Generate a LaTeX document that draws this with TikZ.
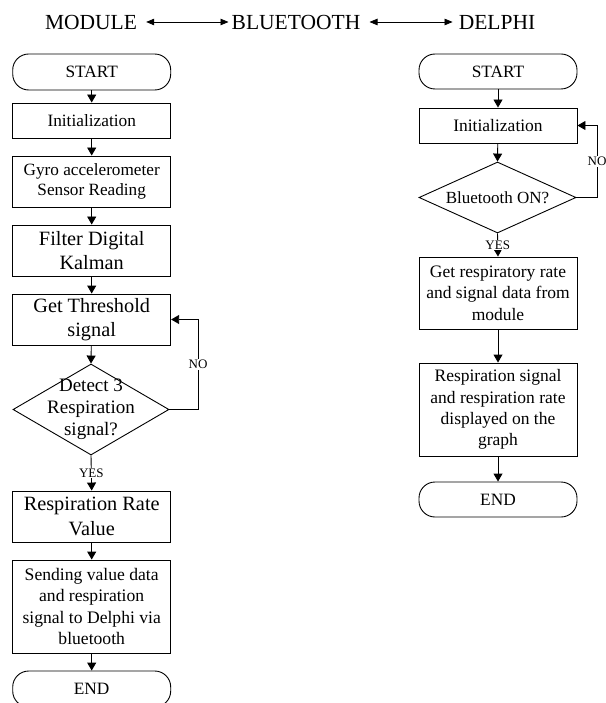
\documentclass[tikz,border=0pt]{standalone}
\usepackage{fontspec}
\setmainfont{Liberation Serif}
\usetikzlibrary{arrows.meta,shapes.geometric}
\tikzset{
  box/.style={draw, line width=0.9pt, minimum width=158pt, inner sep=0pt, align=center},
  term/.style={box, rounded corners=16pt},
  dia/.style={draw, line width=0.9pt, diamond, inner sep=0pt},
  arr/.style={line width=0.9pt, -{Triangle[length=8pt,width=9pt]}},
  dbl/.style={line width=0.8pt, {Triangle[length=8pt,width=6.5pt]}-{Triangle[length=8pt,width=6.5pt]}},
  lbl/.style={fill=white, inner sep=1pt, font=\fontsize{13}{15}\selectfont},
  ttl/.style={inner sep=0pt, font=\fontsize{21.5}{25}\selectfont},
  fA/.style={font=\fontsize{17.3}{20.5}\selectfont},
  fB/.style={font=\fontsize{20.3}{24.5}\selectfont},
  fC/.style={font=\fontsize{17.5}{21.3}\selectfont},
}
\begin{document}
\begin{tikzpicture}[x=1pt,y=-1pt]
\useasboundingbox (0,0) rectangle (605,703);
% title
\node[ttl] (mod) at (91,22) {MODULE};
\node[ttl] (blu) at (296,22) {BLUETOOTH};
\node[ttl] (del) at (497,22) {DELPHI};
\draw[dbl, shorten <=9pt, shorten >=3pt] (mod.east) -- (blu.west);
\draw[dbl, shorten <=9pt, shorten >=6pt] (blu.east) -- (del.west);
% left column
\node[term, fA, minimum height=36pt] (startL) at (91.7,72) {START};
\node[box, fA, minimum height=35pt] (initL) at (91.7,120.5) {Initialization};
\node[box, minimum height=51pt, font=\fontsize{17.2}{20}\selectfont] (gyro) at (91.7,181.5) {Gyro accelerometer\\Sensor Reading};
\node[box, fB, minimum height=51pt] (filt) at (91.7,250.5) {Filter Digital\\Kalman};
\node[box, fB, minimum height=51pt] (thr) at (91.7,319.5) {Get Threshold\\signal};
\node[dia, minimum width=156pt, minimum height=91pt] (det) at (91,409.5) {};
\node[align=center, inner sep=0pt, font=\fontsize{19}{22}\selectfont] (dett) at (det) {Detect 3\\Respiration\\signal?};
\node[box, fB, minimum height=51pt] (rate) at (91.7,516.5) {Respiration Rate\\Value};
\node[box, minimum height=93pt, font=\fontsize{17.6}{21.5}\selectfont] (send) at (91.7,606.5) {Sending value data\\and respiration\\signal to Delphi via\\bluetooth};
\node[term, fA, minimum height=36pt] (endL) at (91.7,689) {END};
\coordinate (loopL) at (198,0);
\draw[arr] (startL) -- (initL);
\draw[arr] (initL) -- (gyro);
\draw[arr] (gyro) -- (filt);
\draw[arr] (filt) -- (thr);
\draw[arr] (thr) -- (det.north);
\draw[arr] (det.south) -- node[lbl]{YES} (rate.north);
\draw[arr] (det.east) -- (det.east -| loopL) -- node[lbl]{NO} (thr.east -| loopL) -- (thr.east);
\draw[arr] (rate) -- (send);
\draw[arr] (send) -- (endL);
% right column
\node[term, fA, minimum height=35pt] (startR) at (498,71.5) {START};
\node[box, fC, minimum height=35pt] (initR) at (498,125.5) {Initialization};
\node[dia, minimum width=157pt, minimum height=71pt] (bt) at (497.5,197.5) {};
\node[inner sep=0pt, font=\fontsize{17}{20}\selectfont] (btt) at (bt) {Bluetooth ON?};
\node[box, fC, minimum height=72pt] (getR) at (498,293) {Get respiratory rate\\and signal data from\\module};
\node[box, fC, minimum height=93pt] (disp) at (498,409.5) {Respiration signal\\and respiration rate\\displayed on the\\graph};
\node[term, fA, minimum height=35pt] (endR) at (498,499.5) {END};
\coordinate (loopR) at (597,0);
\draw[arr] (startR) -- (initR);
\draw[arr] (initR) -- (bt.north);
\draw[arr] (bt.south) -- node[lbl]{YES} (getR.north);
\draw[arr] (bt.east) -- (bt.east -| loopR) -- node[lbl]{NO} (initR.east -| loopR) -- (initR.east);
\draw[arr] (getR) -- (disp);
\draw[arr] (disp) -- (endR);
\end{tikzpicture}
\end{document}
